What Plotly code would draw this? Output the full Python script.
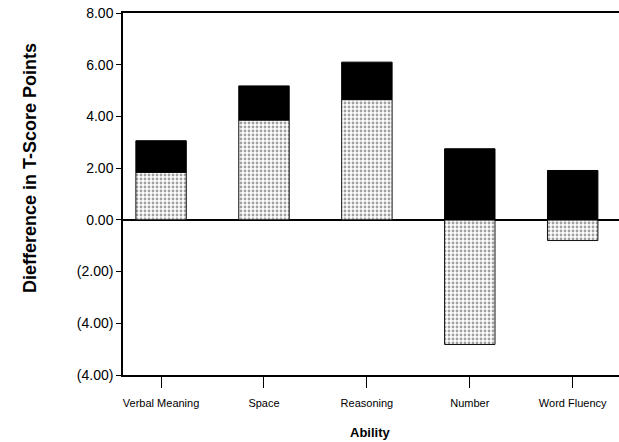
import plotly.graph_objects as go

abilities = ["Verbal Meaning", "Space", "Reasoning", "Number", "Word Fluency"]
dotted_values = [1.84, 3.86, 4.65, -4.82, -0.80]
black_values = [1.22, 1.32, 1.45, 2.75, 1.91]
y_tickvals = [-6, -4, -2, 0, 2, 4, 6, 8]
y_ticktext = ["(4.00)", "(4.00)", "(2.00)", "0.00", "2.00", "4.00", "6.00", "8.00"]

font_family = "Arial, 'Liberation Sans', Helvetica, sans-serif"

fig = go.Figure()
fig.add_trace(go.Bar(
    x=abilities, y=dotted_values, width=0.49,
    marker=dict(color="white", line=dict(color="#111", width=1),
                pattern=dict(shape=".", fgcolor="#444", bgcolor="white", size=4, solidity=0.4)),
    showlegend=False,
))
fig.add_trace(go.Bar(
    x=abilities, y=black_values, width=0.49,
    marker=dict(color="black", line=dict(color="black", width=1)),
    showlegend=False,
))

fig.update_layout(
    width=619, height=442,
    margin=dict(l=123, r=0, t=13, b=67),
    barmode="relative",
    plot_bgcolor="white", paper_bgcolor="white",
    font=dict(family=font_family, color="black"),
    xaxis=dict(
        range=[-0.37, 4.45], showline=True, linecolor="black", linewidth=1.5, mirror=True,
        ticks="outside", ticklen=11, tickcolor="black", ticklabelstandoff=6,
        tickfont=dict(size=11), showgrid=False, zeroline=False,
    ),
    yaxis=dict(
        range=[-6, 8], tickvals=y_tickvals, ticktext=y_ticktext,
        showline=True, linecolor="black", linewidth=1.5,
        ticks="outside", ticklen=5, tickcolor="black",
        tickfont=dict(size=14), showgrid=False,
        zeroline=True, zerolinecolor="black", zerolinewidth=2,
    ),
    annotations=[
        dict(text="<b>Diefference in T-Score Points</b>", textangle=-90,
             xref="paper", yref="paper", x=(30 - 123) / 496, y=(375 - 168) / 362,
             xanchor="center", yanchor="middle", showarrow=False, font=dict(size=18)),
        dict(text="<b>Ability</b>",
             xref="paper", yref="paper", x=(370 - 123) / 496, y=(375 - 432) / 362,
             xanchor="center", yanchor="middle", showarrow=False, font=dict(size=13)),
    ],
)

fig.write_html("out.html", config={"displayModeBar": False},
               post_script="document.body.style.margin='0';document.body.style.overflow='hidden';")
